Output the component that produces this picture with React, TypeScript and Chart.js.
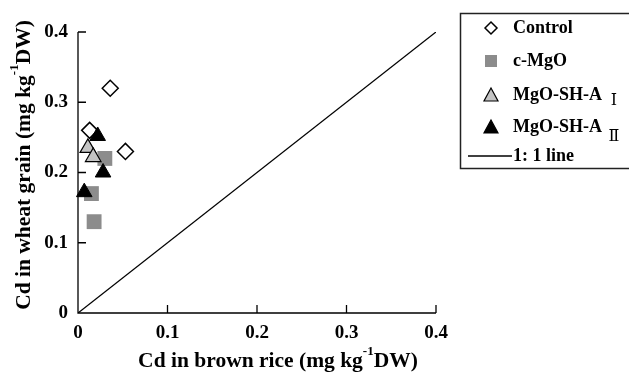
import React, { useEffect, useRef } from "react";
import { Chart, registerables } from "chart.js";

Chart.register(...registerables);

const controlPts = [
  { x: 0.036, y: 0.32 },
  { x: 0.013, y: 0.26 },
  { x: 0.053, y: 0.23 },
];
const cMgOPts = [
  { x: 0.03, y: 0.22 },
  { x: 0.015, y: 0.17 },
  { x: 0.018, y: 0.13 },
];
const shA1Pts = [
  { x: 0.011, y: 0.235 },
  { x: 0.017, y: 0.222 },
];
const shA2Pts = [
  { x: 0.022, y: 0.252 },
  { x: 0.028, y: 0.2 },
  { x: 0.007, y: 0.172 },
];
const oneToOne = [
  { x: 0, y: 0 },
  { x: 0.4, y: 0.4 },
];
const tickValues = [0, 0.1, 0.2, 0.3, 0.4];
const legendLabels = ["Control", "c-MgO", "MgO-SH-A", "MgO-SH-A", "1: 1 line"];
const legendSubs = ["", "", "Ⅰ", "Ⅱ", ""];
const xTitle = ["Cd in brown rice (mg kg", "-1", "DW)"];
const yTitle = ["Cd in wheat grain (mg kg", "-1", "DW)"];

const SERIF = '"Liberation Serif", "Times New Roman", serif';
const fmt = (v: number) => (v === 0 ? "0" : v.toFixed(1));

function drawSupTitle(ctx: CanvasRenderingContext2D, parts: string[], cx: number, cy: number, size: number) {
  const main = `bold ${size}px ${SERIF}`;
  const sup = `bold ${Math.round(size * 0.62)}px ${SERIF}`;
  ctx.font = main;
  const w0 = ctx.measureText(parts[0]).width;
  const w2 = ctx.measureText(parts[2]).width;
  ctx.font = sup;
  const w1 = ctx.measureText(parts[1]).width;
  const total = w0 + w1 + w2;
  let x = cx - total / 2;
  ctx.textBaseline = "middle";
  ctx.textAlign = "left";
  ctx.fillStyle = "#000";
  ctx.font = main;
  ctx.fillText(parts[0], x, cy);
  x += w0;
  ctx.font = sup;
  ctx.fillText(parts[1], x, cy - size * 0.42);
  x += w1;
  ctx.font = main;
  ctx.fillText(parts[2], x, cy);
}

const decorPlugin = {
  id: "decor",
  afterDraw(chart: any) {
    const ctx: CanvasRenderingContext2D = chart.ctx;
    const xs = chart.scales.x;
    const ys = chart.scales.y;
    const x0 = xs.getPixelForValue(0);
    const x4 = xs.getPixelForValue(0.4);
    const y0 = ys.getPixelForValue(0);
    const y4 = ys.getPixelForValue(0.4);
    ctx.save();
    ctx.strokeStyle = "#000";
    ctx.lineWidth = 1.3;
    ctx.beginPath();
    ctx.moveTo(x0, y4);
    ctx.lineTo(x0, y0);
    ctx.lineTo(x4, y0);
    tickValues.forEach((v) => {
      if (v === 0) return;
      const px = xs.getPixelForValue(v);
      ctx.moveTo(px, y0);
      ctx.lineTo(px, y0 - 8);
      const py = ys.getPixelForValue(v);
      ctx.moveTo(x0, py);
      ctx.lineTo(x0 + 8, py);
    });
    ctx.stroke();

    // axis titles
    drawSupTitle(ctx, xTitle, 278, 361, 21.5);
    ctx.save();
    ctx.translate(24, 165);
    ctx.rotate(-Math.PI / 2);
    drawSupTitle(ctx, yTitle, 0, 0, 21.5);
    ctx.restore();

    // legend
    ctx.lineWidth = 1.5;
    ctx.strokeStyle = "#222";
    ctx.strokeRect(460.5, 13.5, 180, 155);
    const rows = [28, 61, 95, 127, 156];
    const mx = 491;
    ctx.beginPath();
    ctx.moveTo(mx - 6, rows[0]);
    ctx.lineTo(mx, rows[0] - 6);
    ctx.lineTo(mx + 6, rows[0]);
    ctx.lineTo(mx, rows[0] + 6);
    ctx.closePath();
    ctx.fillStyle = "#fff";
    ctx.fill();
    ctx.lineWidth = 1.5;
    ctx.strokeStyle = "#000";
    ctx.stroke();
    ctx.fillStyle = "#8c8c8c";
    ctx.fillRect(mx - 6, rows[1] - 6, 12, 12);
    const tri = (cy: number, fill: string) => {
      ctx.beginPath();
      ctx.moveTo(mx, cy - 7);
      ctx.lineTo(mx + 7, cy + 6);
      ctx.lineTo(mx - 7, cy + 6);
      ctx.closePath();
      ctx.fillStyle = fill;
      ctx.fill();
      ctx.lineWidth = 1.2;
      ctx.strokeStyle = "#000";
      ctx.stroke();
    };
    tri(rows[2], "#c4c4c4");
    tri(rows[3], "#000");
    ctx.beginPath();
    ctx.lineWidth = 1.5;
    ctx.moveTo(468, rows[4]);
    ctx.lineTo(512, rows[4]);
    ctx.stroke();

    ctx.fillStyle = "#000";
    ctx.textBaseline = "middle";
    ctx.textAlign = "left";
    ctx.font = `bold 18px ${SERIF}`;
    legendLabels.forEach((lab, i) => {
      ctx.fillText(lab, 513, rows[i]);
    });
    ctx.font = `16px "DejaVu Serif", ${SERIF}`;
    ctx.textAlign = "center";
    ctx.fillText(legendSubs[2], 614, 101);
    ctx.fillText(legendSubs[3], 614, 137);
    ctx.restore();
  },
};

export default function App() {
  const ref = useRef<HTMLCanvasElement>(null);
  useEffect(() => {
    document.body.style.margin = "0";
    const chart = new Chart(ref.current!, {
      type: "scatter",
      data: {
        datasets: [
          {
            label: "Control",
            data: controlPts,
            pointStyle: "rectRot",
            pointRadius: 8,
            backgroundColor: "#fff",
            borderColor: "#000",
            borderWidth: 1.5,
            clip: false,
            order: 3,
          },
          {
            label: "c-MgO",
            data: cMgOPts,
            pointStyle: "rect",
            pointRadius: 10.5,
            backgroundColor: "#8c8c8c",
            borderColor: "#8c8c8c",
            borderWidth: 0,
            clip: false,
            order: 2,
          },
          {
            label: "MgO-SH-A I",
            data: shA1Pts,
            pointStyle: "triangle",
            pointRadius: 9,
            backgroundColor: "#c4c4c4",
            borderColor: "#000",
            borderWidth: 1.2,
            clip: false,
            order: 0,
          },
          {
            label: "MgO-SH-A II",
            data: shA2Pts,
            pointStyle: "triangle",
            pointRadius: 9,
            backgroundColor: "#000",
            borderColor: "#000",
            borderWidth: 1,
            clip: false,
            order: 1,
          },
          {
            type: "line",
            label: "1: 1 line",
            data: oneToOne,
            borderColor: "#000",
            borderWidth: 1.3,
            pointRadius: 0,
            fill: false,
            order: 4,
          } as any,
        ],
      } as any,
      options: {
        animation: false,
        responsive: false,
        layout: { padding: { left: 0, right: 193, top: 32, bottom: 0 } },
        plugins: { legend: { display: false }, tooltip: { enabled: false } },
        scales: {
          x: {
            type: "linear",
            min: 0,
            max: 0.4,
            afterFit: (s: any) => {
              s.height = 60;
            },
            afterBuildTicks: (s: any) => {
              s.ticks = tickValues.map((v) => ({ value: v }));
            },
            grid: { display: false, drawTicks: false },
            border: { display: false },
            ticks: {
              padding: 9,
              color: "#000",
              font: { family: SERIF, size: 19, weight: "bold" },
              callback: (v: any) => fmt(Number(v)),
              maxRotation: 0,
            },
          },
          y: {
            type: "linear",
            min: 0,
            max: 0.4,
            afterFit: (s: any) => {
              s.width = 78;
            },
            afterBuildTicks: (s: any) => {
              s.ticks = tickValues.map((v) => ({ value: v }));
            },
            grid: { display: false, drawTicks: false },
            border: { display: false },
            ticks: {
              padding: 10,
              color: "#000",
              font: { family: SERIF, size: 19, weight: "bold" },
              callback: (v: any) => fmt(Number(v)),
            },
          },
        },
      } as any,
      plugins: [decorPlugin],
    });
    return () => chart.destroy();
  }, []);
  return (
    <div style={{ position: "absolute", left: 0, top: 0, width: 629, height: 373, background: "#fff" }}>
      <canvas ref={ref} width={629} height={373} />
    </div>
  );
}
